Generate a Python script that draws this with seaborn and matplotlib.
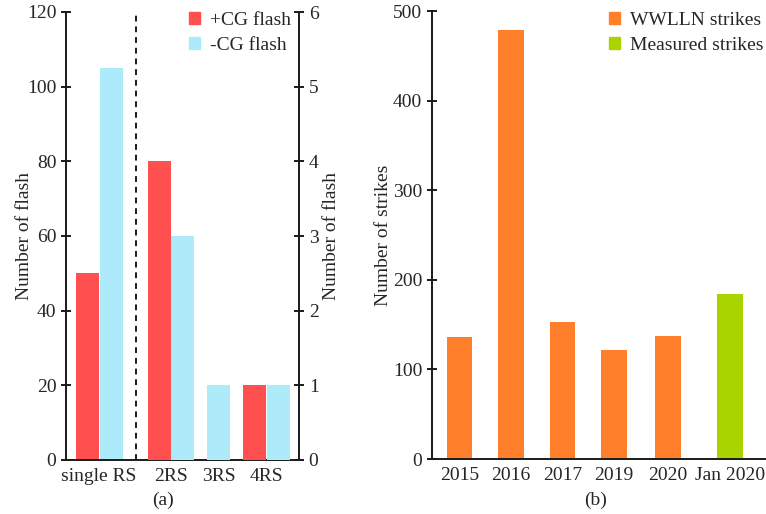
import matplotlib
matplotlib.use("Agg")
import matplotlib.pyplot as plt
import pandas as pd
import seaborn as sns
from matplotlib.patches import Patch

sns.set_theme(style="ticks")
plt.rcParams["font.family"] = ["Liberation Serif", "DejaVu Serif"]
plt.rcParams["font.size"] = 14

# (a) flashes by number of return strokes
# single RS is read on the left axis, multi-stroke groups on the right axis
rs_labels = ["single RS", "2RS", "3RS", "4RS"]
pos_cg_flash = [50, 4, 0, 1]
neg_cg_flash = [105, 3, 1, 1]
flash_series = ["+CG flash", "-CG flash"]

# (b) yearly strike counts
strike_labels = ["2015", "2016", "2017", "2019", "2020", "Jan 2020"]
wwlln_strikes = [136, 479, 153, 122, 137]
measured_strikes = [184]
strike_series = ["WWLLN strikes", "Measured strikes"]

flash_colors = {"+CG flash": "#FF4F4F", "-CG flash": "#ADEBFB"}
strike_colors = {"WWLLN strikes": "#FF7F2A", "Measured strikes": "#AAD400"}

group_x = [0.0, 1.5, 2.5, 3.5]
strike_x = [0.0, 1.0, 2.0, 3.0, 4.05, 5.25]

# bar table for panel (a): zero counts are left out, a lone bar sits centred
rows = []
for i, (p, n) in enumerate(zip(pos_cg_flash, neg_cg_flash)):
    present = [(s, v) for s, v in zip(flash_series, (p, n)) if v > 0]
    offsets = [-0.25, 0.25] if len(present) == 2 else [0.0]
    for (s, v), off in zip(present, offsets):
        rows.append({"x": group_x[i] + off, "count": v, "series": s,
                     "side": "left" if i == 0 else "right"})
df_a = pd.DataFrame(rows)

df_b = pd.DataFrame({
    "x": strike_x,
    "count": wwlln_strikes + measured_strikes,
    "series": [strike_series[0]] * len(wwlln_strikes) + [strike_series[1]] * len(measured_strikes),
})

W, H = 766, 514
fig = plt.figure(figsize=(W / 100, H / 100), dpi=100)
ink = "#1a1a1a"
lw = 1.4
fs = 14

# ---------- panel (a) ----------
ax = fig.add_axes([66 / W, 1 - 460 / H, (299 - 66) / W, (460 - 12) / H])
ax2 = ax.twinx()

bar_kw = dict(x="x", y="count", hue="series", native_scale=True, dodge=False,
              width=0.96, saturation=1, errorbar=None, legend=False, linewidth=0)
sns.barplot(data=df_a[df_a["side"] == "left"], palette=flash_colors, ax=ax, **bar_kw)
sns.barplot(data=df_a[df_a["side"] == "right"], palette=flash_colors, ax=ax2, **bar_kw)

ax.axvline(0.78, color=ink, lw=1.4, ls=(0, (3, 2.5)))

ax.set_xlim(-0.69, 4.17)
ax.set_xticks(group_x, rs_labels)
ax.set_ylim(0, 120)
ax.set_yticks(range(0, 121, 20))
ax2.set_ylim(0, 6)
ax2.set_yticks(range(0, 7))

ax.set_xlabel("")
ax.set_ylabel("Number of flash", fontsize=fs)
ax2.set_ylabel("Number of flash", rotation=90, fontsize=fs)
ax.yaxis.set_label_coords(-0.142, 0.5)
ax2.yaxis.set_label_coords(1.103, 0.5)

for s in ["top", "right"]:
    ax.spines[s].set_visible(False)
for s in ["top", "left", "bottom"]:
    ax2.spines[s].set_visible(False)
for a, s in [(ax, "left"), (ax, "bottom"), (ax2, "right")]:
    a.spines[s].set_linewidth(lw)
    a.spines[s].set_color(ink)

ax.tick_params(axis="y", direction="inout", length=7, width=lw, color=ink, labelsize=fs)
ax.tick_params(axis="x", length=0, pad=6, labelsize=fs)
ax2.tick_params(axis="y", direction="inout", length=7, width=lw, color=ink, labelsize=fs)

handles_a = [Patch(color=flash_colors[s]) for s in flash_series]
ax2.legend(handles_a, flash_series, loc="upper left",
           bbox_to_anchor=(189 / W, 1 - 12 / H), bbox_transform=fig.transFigure,
           frameon=False, fontsize=14, handlelength=0.55, handleheight=0.55,
           handletextpad=0.55, labelspacing=0.4, borderpad=0, borderaxespad=0)

fig.text(163 / W, 1 - 500 / H, "(a)", ha="center", va="center", fontsize=fs)

# ---------- panel (b) ----------
bx = fig.add_axes([432 / W, 1 - 459 / H, (765 - 432) / W, (459 - 11) / H])
sns.barplot(data=df_b, x="x", y="count", hue="series", palette=strike_colors,
            native_scale=True, dodge=False, width=0.5, saturation=1,
            errorbar=None, legend=False, linewidth=0, ax=bx)
bx.set_xlim(-0.534, 5.93)
bx.set_xticks(strike_x, strike_labels)
bx.set_ylim(0, 500)
bx.set_yticks(range(0, 501, 100))
bx.set_xlabel("")
bx.set_ylabel("Number of strikes", fontsize=fs)
bx.yaxis.set_label_coords(-0.120, 0.5)
for s in ["top", "right"]:
    bx.spines[s].set_visible(False)
for s in ["left", "bottom"]:
    bx.spines[s].set_linewidth(lw)
    bx.spines[s].set_color(ink)
bx.tick_params(axis="y", direction="inout", length=7, width=lw, color=ink, labelsize=fs)
bx.tick_params(axis="x", length=0, pad=6, labelsize=fs)

handles_b = [Patch(color=strike_colors[s]) for s in strike_series]
bx.legend(handles_b, strike_series, loc="upper left",
          bbox_to_anchor=(609 / W, 1 - 12 / H), bbox_transform=fig.transFigure,
          frameon=False, fontsize=14, handlelength=0.55, handleheight=0.55,
          handletextpad=0.55, labelspacing=0.4, borderpad=0, borderaxespad=0)

fig.text(596 / W, 1 - 500 / H, "(b)", ha="center", va="center", fontsize=fs)

fig.savefig("out.png", dpi=100)
